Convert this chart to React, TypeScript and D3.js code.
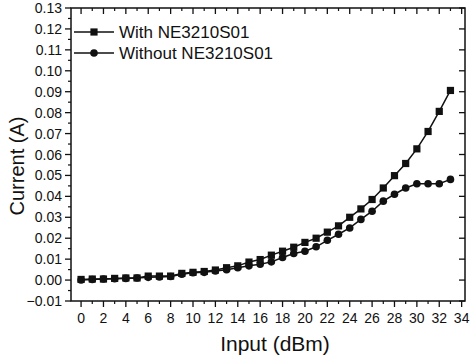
import React from "react";
import * as d3 from "d3";

const inputs = [0,1,2,3,4,5,6,7,8,9,10,11,12,13,14,15,16,17,18,19,20,21,22,23,24,25,26,27,28,29,30,31,32,33];
const withNE = [0.0003,0.0005,0.0005,0.0008,0.001,0.001,0.0019,0.0019,0.0019,0.0032,0.0037,0.0041,0.0048,0.0059,0.0068,0.0086,0.0098,0.0119,0.0138,0.0157,0.018,0.020,0.0229,0.0259,0.0300,0.0340,0.0385,0.044,0.0499,0.0557,0.0627,0.071,0.0806,0.0906];
const withoutNE = [0.0000,0.0003,0.0005,0.0006,0.0008,0.001,0.0013,0.0015,0.0017,0.0028,0.0035,0.0037,0.0043,0.0049,0.0059,0.0068,0.0076,0.0087,0.0108,0.0127,0.0138,0.0159,0.019,0.0219,0.0249,0.029,0.0329,0.0377,0.041,0.044,0.046,0.046,0.046,0.0481];
const xTicks = d3.range(0, 35, 2);
const xMinor = d3.range(1, 35, 2);
const yTicks = d3.range(-1, 14).map((v) => v / 100);
const yMinor = d3.range(-1, 13).map((v) => (v + 0.5) / 100);
const seriesNames = ["With NE3210S01", "Without NE3210S01"];

export default function App() {
  const W = 474, H = 357;
  const L = 71, R = 465, T = 8, B = 301;
  const x = d3.scaleLinear().domain([-0.9, 34.3]).range([L, R]);
  const y = d3.scaleLinear().domain([-0.01, 0.13]).range([B, T]);
  const line = d3.line<number>().x((_, i) => x(inputs[i])).y((d) => y(d));
  const font = "Liberation Sans, Arial, sans-serif";
  const col = "#111";
  return (
    <svg width={W} height={H} style={{ position: "absolute", left: 0, top: 0, background: "#fff" }} fontFamily={font}>
      <rect x={L} y={T} width={R - L} height={B - T} fill="none" stroke={col} strokeWidth={1.5} />
      {xTicks.map((t) => (
        <g key={"xt" + t}>
          <line x1={x(t)} x2={x(t)} y1={B} y2={B + 6} stroke={col} strokeWidth={1.3} />
          <line x1={x(t)} x2={x(t)} y1={T} y2={T + 6} stroke={col} strokeWidth={1.3} />
          <text x={x(t)} y={B + 22} textAnchor="middle" fontSize={14} fill={col}>{t}</text>
        </g>
      ))}
      {xMinor.map((t) => (
        <g key={"xm" + t}>
          <line x1={x(t)} x2={x(t)} y1={B} y2={B + 3} stroke={col} strokeWidth={1.2} />
          <line x1={x(t)} x2={x(t)} y1={T} y2={T + 3} stroke={col} strokeWidth={1.2} />
        </g>
      ))}
      {yTicks.map((t) => (
        <g key={"yt" + t}>
          <line x1={L - 6} x2={L} y1={y(t)} y2={y(t)} stroke={col} strokeWidth={1.3} />
          <line x1={R - 6} x2={R} y1={y(t)} y2={y(t)} stroke={col} strokeWidth={1.3} />
          <text x={L - 9} y={y(t) + 5} textAnchor="end" fontSize={14} fill={col}>{d3.format(".2f")(t)}</text>
        </g>
      ))}
      {yMinor.map((t) => (
        <line key={"ym" + t} x1={L - 3} x2={L} y1={y(t)} y2={y(t)} stroke={col} strokeWidth={1.2} />
      ))}
      <path d={line(withNE) || ""} fill="none" stroke={col} strokeWidth={1.5} />
      <path d={line(withoutNE) || ""} fill="none" stroke={col} strokeWidth={1.5} />
      {withNE.map((v, i) => (
        <rect key={"s" + i} x={x(inputs[i]) - 3.6} y={y(v) - 3.6} width={7.2} height={7.2} fill={col} />
      ))}
      {withoutNE.map((v, i) => (
        <circle key={"c" + i} cx={x(inputs[i])} cy={y(v)} r={3.8} fill={col} />
      ))}
      <g>
        <line x1={74} x2={114} y1={32} y2={32} stroke={col} strokeWidth={1.5} />
        <rect x={90.4} y={28.4} width={7.2} height={7.2} fill={col} />
        <text x={119} y={38} fontSize={17} fill={col}>{seriesNames[0]}</text>
        <line x1={74} x2={114} y1={53} y2={53} stroke={col} strokeWidth={1.5} />
        <circle cx={94} cy={53} r={3.8} fill={col} />
        <text x={119} y={59} fontSize={17} fill={col}>{seriesNames[1]}</text>
      </g>
      <text x={275} y={351} textAnchor="middle" fontSize={21} fill={col}>Input (dBm)</text>
      <text transform={`translate(24, 166) rotate(-90)`} textAnchor="middle" fontSize={20} fill={col}>Current (A)</text>
    </svg>
  );
}
